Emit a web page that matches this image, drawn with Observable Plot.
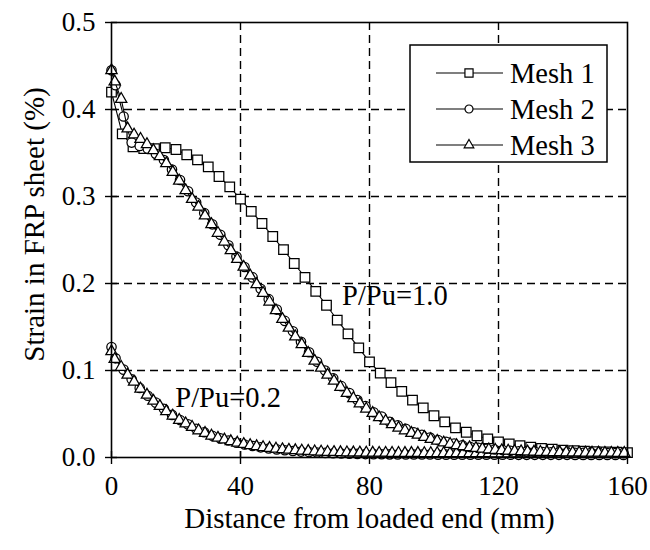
<!DOCTYPE html>
<html>
<head>
<meta charset="utf-8">
<script src="https://cdn.jsdelivr.net/npm/d3@7"></script>
<script src="https://cdn.jsdelivr.net/npm/@observablehq/plot@0.6"></script>
<style>
  html, body { margin: 0; padding: 0; background: #ffffff; }
</style>
</head>
<body>
<div id="chart"></div>
<script>
// ---------- data ----------
const xTicks = [0, 40, 80, 120, 160];
const yTicks = [0, 0.1, 0.2, 0.3, 0.4, 0.5];
const xGrid = [40, 80, 120];
const yGrid = [0.1, 0.2, 0.3, 0.4];
const seriesNames = ["Mesh 1", "Mesh 2", "Mesh 3"];
const loadLabels = ["P/Pu=1.0", "P/Pu=0.2"];
const loadLabelX = [71.5, 19.8];
const loadLabelY = [0.186, 0.0684];
const xTitle = "Distance from loaded end (mm)";
const yTitle = "Strain in FRP sheet (%)";

// sampling positions (mm): Mesh 1 every 10/3 mm from 0; Mesh 2 at 0 then 1.25 + 2.5k; Mesh 3 at 0 then 1 + 2k
const mesh1Step = 10 / 3;
const mesh2Step = 2.5, mesh2Offset = 1.25;
const mesh3Step = 2, mesh3Offset = 1;

// P/Pu = 1.0
const mesh1_P10 = [0.420, 0.372, 0.357, 0.355, 0.355, 0.356, 0.354, 0.348, 0.342, 0.334,
  0.323, 0.311, 0.297, 0.283, 0.269, 0.254, 0.239, 0.223, 0.207, 0.191,
  0.175, 0.158, 0.142, 0.126, 0.110, 0.097, 0.086, 0.076, 0.066, 0.057,
  0.048, 0.041, 0.034, 0.029, 0.025, 0.0215, 0.018, 0.0155, 0.0135, 0.012,
  0.0105, 0.0095, 0.0085, 0.0078, 0.0072, 0.0067, 0.0063, 0.006, 0.0057];
const mesh2_P10 = [0.445, 0.428, 0.392, 0.362, 0.358, 0.355, 0.349, 0.342, 0.331, 0.319,
  0.306, 0.293, 0.281, 0.268, 0.256, 0.244, 0.231, 0.219, 0.207, 0.194,
  0.182, 0.170, 0.157, 0.145, 0.133, 0.121, 0.110, 0.100, 0.091, 0.082,
  0.074, 0.066, 0.059, 0.052, 0.047, 0.041, 0.037, 0.033, 0.029, 0.026,
  0.023, 0.020, 0.018, 0.016, 0.014, 0.012, 0.011, 0.010, 0.0092, 0.0085,
  0.0078, 0.0072, 0.0068, 0.0065, 0.0062, 0.006, 0.0058, 0.0056, 0.0055, 0.0054,
  0.0053, 0.0052, 0.0052, 0.0051, 0.0051];
const mesh3_P10 = [0.445, 0.432, 0.412, 0.378, 0.371, 0.366, 0.360, 0.353, 0.346, 0.338,
  0.328, 0.318, 0.307, 0.297, 0.288, 0.278, 0.268, 0.258, 0.248, 0.238,
  0.228, 0.219, 0.209, 0.199, 0.189, 0.179, 0.169, 0.159, 0.149, 0.139,
  0.130, 0.120, 0.111, 0.103, 0.095, 0.088, 0.081, 0.074, 0.068, 0.062,
  0.056, 0.051, 0.046, 0.042, 0.038, 0.034, 0.031, 0.028, 0.026, 0.0235,
  0.021, 0.019, 0.017, 0.0155, 0.014, 0.0127, 0.0116, 0.0107, 0.0099, 0.0092,
  0.0086, 0.0081, 0.0077, 0.0073, 0.007, 0.0067, 0.0065, 0.0063, 0.0061, 0.006,
  0.0058, 0.0057, 0.0056, 0.0055, 0.0054, 0.0053, 0.0053, 0.0052, 0.0052, 0.0051,
  0.0051];

// P/Pu = 0.2
const mesh2_P02 = [0.127, 0.114, 0.101, 0.090, 0.080, 0.071, 0.063, 0.056, 0.049, 0.043,
  0.038, 0.033, 0.029, 0.025, 0.022, 0.0195, 0.017, 0.015, 0.0132, 0.0117,
  0.0104, 0.0093, 0.0083, 0.0075, 0.0068, 0.0062, 0.0057, 0.0053, 0.0049, 0.0046,
  0.0043, 0.0041, 0.0039, 0.0038, 0.0037, 0.0036, 0.0035, 0.0035, 0.0034, 0.0034,
  0.0034, 0.0033, 0.0033, 0.0033, 0.0033, 0.0032, 0.0032, 0.0032, 0.0032, 0.0032,
  0.0032, 0.0031, 0.0031, 0.0031, 0.0031, 0.0031, 0.0031, 0.0031, 0.003, 0.003,
  0.003, 0.003, 0.003, 0.003, 0.003];
const mesh3_P02 = [0.122, 0.113, 0.104, 0.095, 0.087, 0.079, 0.072, 0.065, 0.059, 0.053,
  0.048, 0.043, 0.039, 0.035, 0.031, 0.028, 0.025, 0.0225, 0.0205, 0.0185,
  0.0168, 0.0153, 0.014, 0.0128, 0.0117, 0.0108, 0.01, 0.0093, 0.0087, 0.0082,
  0.0077, 0.0073, 0.0069, 0.0066, 0.0063, 0.0061, 0.0059, 0.0057, 0.0056, 0.0055,
  0.0054, 0.0053, 0.0052, 0.0052, 0.0051, 0.0051, 0.005, 0.005, 0.005, 0.0049,
  0.0049, 0.0049, 0.0048, 0.0048, 0.0048, 0.0048, 0.0047, 0.0047, 0.0047, 0.0047,
  0.0046, 0.0046, 0.0046, 0.0046, 0.0046, 0.0045, 0.0045, 0.0045, 0.0045, 0.0045,
  0.0045, 0.0044, 0.0044, 0.0044, 0.0044, 0.0044, 0.0044, 0.0044, 0.0043, 0.0043,
  0.0043];

// ---------- build tables ----------
const m1x = i => i * mesh1Step;
const m2x = i => i === 0 ? 0 : mesh2Offset + mesh2Step * (i - 1);
const m3x = i => i === 0 ? 0 : mesh3Offset + mesh3Step * (i - 1);
const table = (vals, fx) => vals.map((v, i) => ({x: fx(i), y: v}));

const S1 = table(mesh1_P10, m1x);
const S2a = table(mesh2_P10, m2x);
const S3a = table(mesh3_P10, m3x);
const S2b = table(mesh2_P02, m2x);
const S3b = table(mesh3_P02, m3x);

const FONT = '"Liberation Serif", "Times New Roman", Times, serif';
const symbols = ["square", "circle", "triangle"];
const radii = [5.4, 4.7, 4.2];
const d3types = [d3.symbolSquare, d3.symbolCircle, d3.symbolTriangle];

function seriesMarks(data, k) {
  return [
    Plot.line(data, {x: "x", y: "y", stroke: "black", strokeWidth: 1.1}),
    Plot.dot(data, {x: "x", y: "y", symbol: () => symbols[k], r: radii[k],
      fill: "white", stroke: "black", strokeWidth: 1.25})
  ];
}

// legend drawn inside the plot, positioned relative to the frame
function legend(index, scales, values, dims) {
  const right = dims.width - dims.marginRight - 20;
  const top = dims.marginTop + 23;
  const w = 197, h = 117;
  const left = right - w;
  const g = d3.create("svg:g").attr("font-family", FONT);
  g.append("rect").attr("x", left).attr("y", top).attr("width", w).attr("height", h)
    .attr("fill", "white").attr("stroke", "black").attr("stroke-width", 1.5);
  seriesNames.forEach((name, k) => {
    const cy = top + 28 + k * 36;
    g.append("line").attr("x1", left + 26).attr("x2", left + 93)
      .attr("y1", cy).attr("y2", cy).attr("stroke", "black").attr("stroke-width", 1.2);
    g.append("path").attr("transform", `translate(${left + 59},${cy})`)
      .attr("d", d3.symbol(d3types[k], Math.PI * (radii[k] * 0.85) ** 2)())
      .attr("fill", "white").attr("stroke", "black").attr("stroke-width", 1.2);
    g.append("text").attr("x", left + 100).attr("y", cy).attr("dy", "0.34em")
      .attr("text-anchor", "start").attr("font-size", 28.5).attr("fill", "black").text(name);
  });
  return g.node();
}

// rotated y-axis title, positioned relative to the frame
function yAxisTitle(index, scales, values, dims) {
  const cx = dims.marginLeft - 77;
  const cy = dims.marginTop + (dims.height - dims.marginTop - dims.marginBottom) / 2 - 15;
  const g = d3.create("svg:g").attr("font-family", FONT);
  g.append("text").attr("transform", `translate(${cx},${cy}) rotate(-90)`)
    .attr("text-anchor", "middle").attr("dy", "0.34em").attr("font-size", 29)
    .attr("fill", "black").text(yTitle);
  return g.node();
}

const chart = Plot.plot({
  width: 650,
  height: 550,
  marginLeft: 111,
  marginRight: 23,
  marginTop: 22,
  marginBottom: 93,
  style: {fontFamily: FONT, fontSize: "27px", color: "black", background: "white", overflow: "visible"},
  x: {domain: [0, 160]},
  y: {domain: [0, 0.5]},
  marks: [
    Plot.ruleX(xGrid, {stroke: "black", strokeWidth: 1.4, strokeDasharray: "8,5"}),
    Plot.ruleY(yGrid, {stroke: "black", strokeWidth: 1.4, strokeDasharray: "8,5"}),
    Plot.axisX({ticks: xTicks, tickFormat: d => String(d), tickSize: 7, tickPadding: 11, fontSize: 27, label: null, strokeWidth: 1.4}),
    Plot.axisY({ticks: yTicks, tickFormat: d3.format(".1f"), tickSize: 6, tickPadding: 10, fontSize: 27, label: null, strokeWidth: 1.4}),
    Plot.ruleX(xTicks, {y1: 0, y2: 0, insetTop: -6, stroke: "black", strokeWidth: 1.4}),
    Plot.ruleY(yTicks, {x1: 0, x2: 0, insetRight: -6, stroke: "black", strokeWidth: 1.4}),
    ...seriesMarks(S2b, 1),
    ...seriesMarks(S3b, 2),
    ...seriesMarks(S1, 0),
    ...seriesMarks(S2a, 1),
    ...seriesMarks(S3a, 2),
    Plot.frame({stroke: "black", strokeWidth: 1.6}),
    Plot.text(loadLabels, {x: (d, i) => loadLabelX[i], y: (d, i) => loadLabelY[i], text: d => d,
      textAnchor: "start", fontSize: 28.5, fill: "black"}),
    Plot.text([xTitle], {text: d => d, frameAnchor: "bottom", dy: 70, fontSize: 29, fill: "black"}),
    yAxisTitle,
    legend
  ]
});
document.getElementById("chart").appendChild(chart);
</script>
</body>
</html>
